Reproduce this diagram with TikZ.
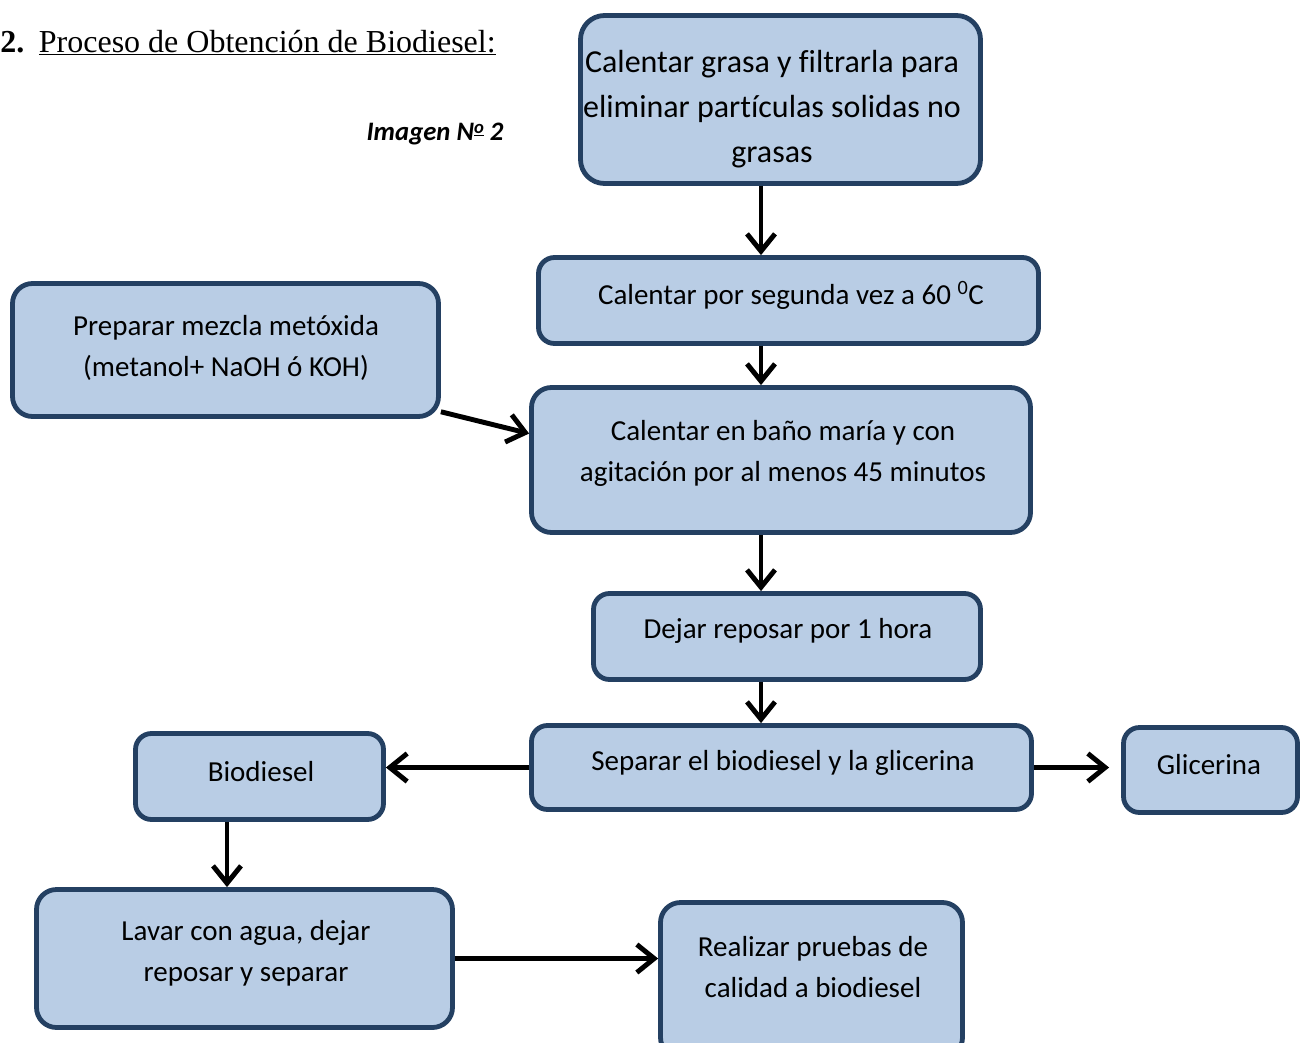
\documentclass[tikz,border=0pt]{standalone}
\usepackage{fontspec}
\setmainfont[Ligatures={NoCommon}]{Carlito}
\newfontfamily\tnr{Liberation Serif}
\usetikzlibrary{arrows.meta}
\definecolor{boxfill}{HTML}{B9CDE5}
\definecolor{boxline}{RGB}{36,64,98}
\newcommand{\ordo}{{\fontsize{14pt}{14pt}\selectfont\raisebox{5.5pt}{\underline{o}}}}
\begin{document}
\begin{tikzpicture}[x=0.75pt,y=-0.75pt,
  box/.style 2 args={draw=boxline, fill=boxfill, line width=3.6pt, rounded corners=12pt,
    minimum width=#1*0.75pt, minimum height=#2*0.75pt, inner sep=0pt},
  txt/.style={align=center, inner sep=0pt, font=\fontsize{21.75pt}{30.75pt}\selectfont},
  bigtxt/.style={align=center, inner sep=0pt, font=\fontsize{24pt}{33.75pt}\selectfont},
  arr/.style={line width=3.7pt, -{Straight Barb[length=13pt, width=21pt, line width=3.7pt]}}]
\useasboundingbox (0,0) rectangle (1306,1042);
\clip (0,0) rectangle (1306,1042);
% title
\node[anchor=base west, inner sep=0pt, font=\tnr\fontsize{24pt}{28pt}\selectfont] (title) at (0,52)
  {\textbf{2.}\hspace{11pt}\underline{Proceso de Obtención de Biodiesel:}};
\node[inner sep=0pt, font=\fontsize{20pt}{22pt}\selectfont\bfseries\itshape] (img) at (435,134) {Imagen N\ordo\ 2};
% boxes
\node[box={400}{168}, rounded corners=18pt] (b1) at (780.5,99.5) {};
\node[box={500}{86}] (b2) at (788.5,300.5) {};
\node[box={426}{133}, rounded corners=15pt] (b3) at (225.5,350) {};
\node[box={499}{145}, rounded corners=15pt] (b4) at (781,460) {};
\node[box={387}{86}] (b5) at (787,636.5) {};
\node[box={500}{84}] (b6) at (781.5,767.5) {};
\node[box={174}{85}] (b7) at (1210.5,770) {};
\node[box={248}{86}] (b8) at (259.5,776.5) {};
\node[box={416}{138}, rounded corners=15pt] (b9) at (244.5,958.5) {};
\node[box={302}{155}, rounded corners=15pt] (b10) at (811.5,980) {};
% texts
\node[bigtxt] (t1) at (772,109) {Calentar grasa y filtrarla para\\eliminar partículas solidas no\\grasas};
\node[txt] (t2) at (791,295) {Calentar por segunda vez a 60 \textsuperscript{0}C};
\node[txt] (t3) at (226,348) {Preparar mezcla metóxida\\(metanol+ NaOH ó KOH)};
\node[txt] (t4) at (783,453) {Calentar en baño maría y con\\agitación por al menos 45 minutos};
\node[txt] (t5) at (788,631) {Dejar reposar por 1 hora};
\node[txt] (t6) at (783,763) {Separar el biodiesel y la glicerina};
\node[txt] (t7) at (1209,765) {Glicerina};
\node[txt] (t8) at (261,772) {Biodiesel};
\node[txt] (t9) at (246,953) {Lavar con agua, dejar\\reposar y separar};
\node[txt] (t10) at (813,967) {Realizar pruebas de\\calidad a biodiesel};
% connectors
\coordinate (ax) at (761,0);
\coordinate (bx) at (227,0);
\draw[arr] (b1.south -| ax) -- (b2.north -| ax);
\draw[arr] (b2.south -| ax) -- (b4.north -| ax);
\draw[arr] (b3.-16) -- (b4.174);
\draw[arr] (b4.south -| ax) -- (b5.north -| ax);
\draw[arr] (b5.south -| ax) -- (b6.north -| ax);
\draw[arr] (b6.west) -- (b8.east |- b6.west);
\draw[arr] (b6.east) -- ([xshift=-9pt]b7.west |- b6.east);
\draw[arr] (b8.south -| bx) -- (b9.north -| bx);
\draw[arr] (b9.east) -- (b10.west |- b9.east);
\end{tikzpicture}
\end{document}
